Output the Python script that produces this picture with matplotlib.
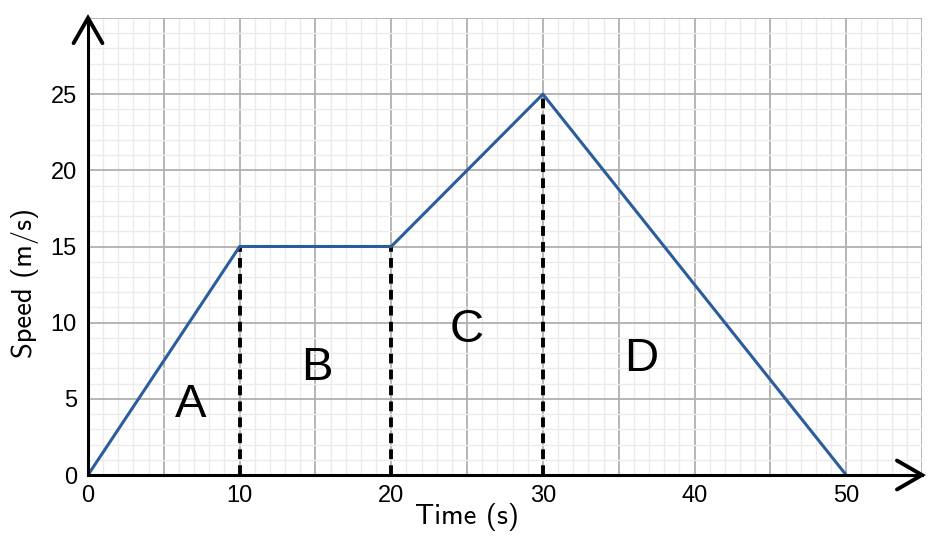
import matplotlib
matplotlib.use('Agg')
import matplotlib.pyplot as plt
import numpy as np

plt.rcParams['font.family'] = ['Liberation Sans', 'DejaVu Sans']
plt.rcParams['axes.unicode_minus'] = False

# speed-time data
time_s = [0, 10, 20, 30, 50]
speed_ms = [0, 15, 15, 25, 0]
drop_times = [10, 20, 30]
drop_speeds = [15, 15, 25]
region_labels = ['A', 'B', 'C', 'D']
label_x = [6.75, 15.1, 25.0, 36.45]
label_y = [4.6, 7.05, 9.5, 7.6]
x_ticks = [0, 10, 20, 30, 40, 50]
y_ticks = [0, 5, 10, 15, 20, 25]

fig = plt.figure(figsize=(9.43, 5.37), dpi=100)
ax = fig.add_axes([88 / 943, 1 - 475 / 537, (922 - 88) / 943, (475 - 18) / 537])
ax.set_xlim(0, 55)
ax.set_ylim(0, 30)

# graph paper grid
for v in np.arange(1, 56):
    ax.axvline(v, color='#b0b0b0' if v % 5 == 0 else '#ebebeb',
               lw=1.3 if v % 5 == 0 else 1.0, zorder=0)
for v in np.arange(1, 31):
    ax.axhline(v, color='#b0b0b0' if v % 5 == 0 else '#ebebeb',
               lw=1.3 if v % 5 == 0 else 1.0, zorder=0)

ax.plot(time_s, speed_ms, color='#2b5c9b', lw=2.2, zorder=3, solid_capstyle='round')
ax.vlines(drop_times, 0, drop_speeds, colors='black', linestyles=(0, (2.5, 1.6)), lw=2.8, zorder=2)

for lab, lx, ly in zip(region_labels, label_x, label_y):
    ax.text(lx, ly, lab, fontsize=34, ha='center', va='center')

for s in ['top', 'right']:
    ax.spines[s].set_visible(False)
for s in ['left', 'bottom']:
    ax.spines[s].set_linewidth(2.2)
    ax.spines[s].set_zorder(4)

ax.set_xticks(x_ticks)
ax.set_yticks(y_ticks)
ax.tick_params(length=0, labelsize=17)
ax.tick_params(axis='y', pad=8)
ax.tick_params(axis='x', pad=7)

ax.set_xlabel('Time (s)', fontsize=20.5, family=['cmss10', 'DejaVu Sans'])
ax.set_ylabel('Speed (m/s)', fontsize=20.5, family=['cmss10', 'DejaVu Sans'])
ax.xaxis.set_label_coords(25 / 55, -0.0919)
ax.yaxis.set_label_coords(-0.0755, 0.421)
ax.xaxis.label.set_va('center')
ax.yaxis.label.set_va('center')

# arrow heads
ax.plot([-0.95, 0, 0.95], [28.35, 30, 28.35], color='black', lw=2.8, clip_on=False,
        solid_capstyle='round', solid_joinstyle='miter', zorder=5)
ax.plot([53.35, 55, 53.35], [0.95, 0, -0.95], color='black', lw=2.8, clip_on=False,
        solid_capstyle='round', solid_joinstyle='miter', zorder=5)

fig.savefig('out.png', dpi=100, facecolor='white')
